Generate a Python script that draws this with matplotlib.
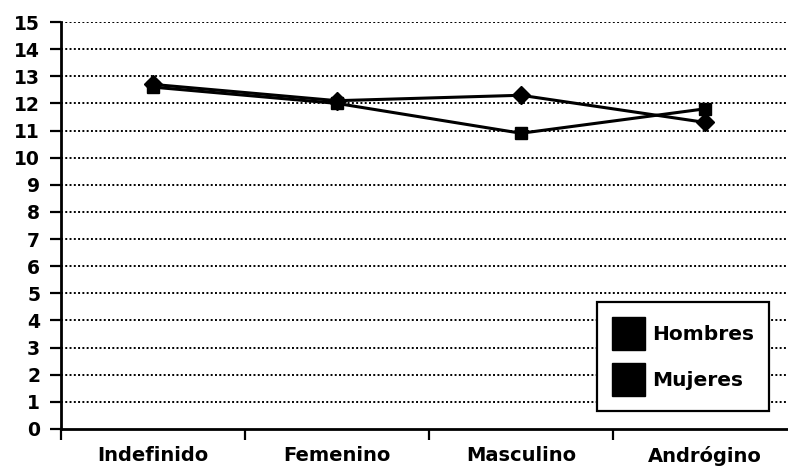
import matplotlib
matplotlib.use("Agg")
import matplotlib.pyplot as plt
from matplotlib.patches import Patch

categories = ["Indefinido", "Femenino", "Masculino", "Andrógino"]
hombres = [12.6, 12.0, 10.9, 11.8]
mujeres = [12.7, 12.1, 12.3, 11.3]
series_names = ["Hombres", "Mujeres"]
y_ticks = list(range(0, 16))

plt.rcParams['font.family'] = ['DejaVu Sans']

fig = plt.figure(figsize=(7.88, 4.66), dpi=100)
W, H = 788, 466
ax = fig.add_axes([61 / W, 1 - 429 / H, 736 / W, 407 / H])

x = list(range(len(categories)))
ax.plot(x, hombres, color='black', lw=2.2, marker='s', ms=9, zorder=3, clip_on=False)
ax.plot(x, mujeres, color='black', lw=2.2, marker='D', ms=9, zorder=3, clip_on=False)

ax.set_xlim(-0.5, len(categories) - 0.5)
ax.set_ylim(0, 15)

# y axis
ax.set_yticks(y_ticks)
ax.set_yticklabels([str(v) for v in y_ticks], fontsize=13.5, fontweight='bold')
ax.tick_params(axis='y', direction='out', length=8, width=1.6, pad=7)
for v in y_ticks[1:]:
    ax.axhline(v, color='black', lw=1.4, ls=(0, (1, 1.2)), zorder=1)

# x axis: ticks at boundaries, labels at centers
ax.set_xticks([i - 0.5 for i in range(len(categories) + 1)])
ax.set_xticklabels([])
ax.set_xticks(x, minor=True)
ax.set_xticklabels(categories, minor=True, fontsize=14, fontweight='bold')
ax.tick_params(axis='x', which='major', direction='out', length=8, width=1.6)
ax.tick_params(axis='x', which='minor', length=0, pad=12)

for s in ['top', 'right']:
    ax.spines[s].set_visible(False)
for s in ['left', 'bottom']:
    ax.spines[s].set_linewidth(2.0)

handles = [Patch(facecolor='black', edgecolor='black') for _ in series_names]
fs = 14.5
fspx = fs * 100 / 72
hh = (33 - 0.245 * fspx) / (0.65 * fspx)
leg = ax.legend(handles, series_names, loc='upper left',
                bbox_to_anchor=(597 / W, 1 - 302 / H), bbox_transform=fig.transFigure,
                prop={'size': fs, 'weight': 'bold'},
                handlelength=33 / fspx, handleheight=hh,
                labelspacing=13 / fspx, borderpad=15 / fspx, handletextpad=7 / fspx,
                borderaxespad=0, fancybox=False, framealpha=1, edgecolor='black')
leg.get_frame().set_linewidth(1.6)

fig.savefig("out.png", dpi=100, facecolor='white')
